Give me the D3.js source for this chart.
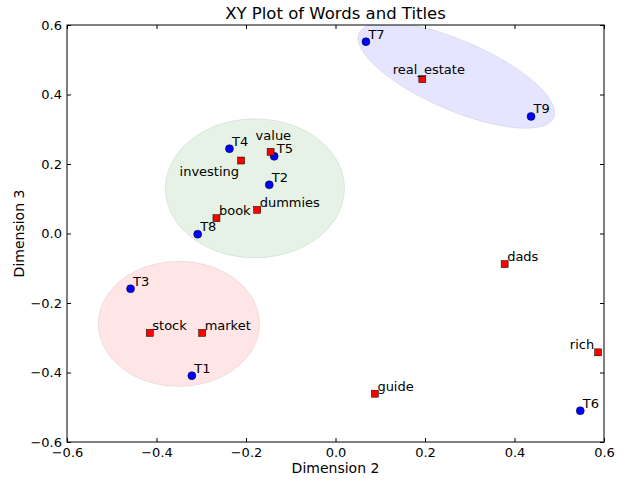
<!DOCTYPE html>
<html>
<head>
<meta charset="utf-8">
<script src="https://cdn.jsdelivr.net/npm/d3@7"></script>
<style>
  body { margin: 0; background: #fff; }
  text { font-family: "DejaVu Sans", sans-serif; fill: #000; }
</style>
</head>
<body>
<div id="chart"></div>
<script>
// title points (blue circles)
var titleNames = ["T1", "T2", "T3", "T4", "T5", "T6", "T7", "T8", "T9"];
var titleX = [-0.321, -0.148, -0.458, -0.237, -0.137, 0.547, 0.068, -0.308, 0.437];
var titleY = [-0.409, 0.140, -0.159, 0.244, 0.222, -0.510, 0.552, -0.002, 0.337];

// word points (red squares)
var wordNames = ["book", "dads", "dummies", "guide", "investing", "market", "real_estate", "rich", "stock", "value"];
var wordX = [-0.266, 0.378, -0.175, 0.088, -0.211, -0.298, 0.194, 0.587, -0.415, -0.145];
var wordY = [0.044, -0.088, 0.068, -0.461, 0.210, -0.286, 0.444, -0.342, -0.286, 0.235];

// cluster ellipses (data units)
var clusterCX = [-0.35, -0.18, 0.27];
var clusterCY = [-0.26, 0.13, 0.455];
var clusterW = [0.36, 0.40, 0.50];
var clusterH = [0.36, 0.40, 0.19];
var clusterAngle = [0, 0, -31];

var xTicks = [-0.6, -0.4, -0.2, 0.0, 0.2, 0.4, 0.6];
var yTicks = [-0.6, -0.4, -0.2, 0.0, 0.2, 0.4, 0.6];

var clusterColors = ["#ff0000", "#008000", "#0000ff"];

var W = 640, H = 484;
var margin = {top: 25, right: 36, bottom: 42, left: 67};
var width = W - margin.left - margin.right,
    height = H - margin.top - margin.bottom;

var svg = d3.select("#chart")
  .append("svg")
    .attr("width", W)
    .attr("height", H);

var g = svg.append("g")
    .attr("transform", "translate(" + margin.left + "," + margin.top + ")");

var x = d3.scaleLinear().domain([-0.6, 0.6]).range([0, width]);
var y = d3.scaleLinear().domain([-0.6, 0.6]).range([height, 0]);

svg.append("defs").append("clipPath").attr("id", "plotclip")
  .append("rect").attr("width", width).attr("height", height);

// ellipses
var ellipseLine = d3.line()
  .x(function(p){ return x(p[0]); })
  .y(function(p){ return y(p[1]); })
  .curve(d3.curveLinearClosed);

function ellipsePoints(i) {
  var a = clusterW[i] / 2, b = clusterH[i] / 2;
  var th = clusterAngle[i] * Math.PI / 180;
  return d3.range(0, 120).map(function(k){
    var t = k / 120 * 2 * Math.PI;
    var ex = a * Math.cos(t), ey = b * Math.sin(t);
    return [clusterCX[i] + ex * Math.cos(th) - ey * Math.sin(th),
            clusterCY[i] + ex * Math.sin(th) + ey * Math.cos(th)];
  });
}

g.append("g")
    .attr("clip-path", "url(#plotclip)")
  .selectAll("path")
  .data(d3.range(clusterCX.length))
  .join("path")
    .attr("d", function(i){ return ellipseLine(ellipsePoints(i)); })
    .attr("fill", function(i){ return clusterColors[i]; })
    .attr("fill-opacity", 0.1)
    .attr("stroke", "#000")
    .attr("stroke-opacity", 0.08)
    .attr("stroke-width", 1);

// axes (ticks inside, on all four sides)
var fmt = d3.format(".1f");
var xAxisB = d3.axisBottom(x).tickValues(xTicks).tickFormat(fmt).tickSizeInner(-4).tickSizeOuter(0).tickPadding(6);
var xAxisT = d3.axisTop(x).tickValues(xTicks).tickFormat("").tickSizeInner(-4).tickSizeOuter(0);
var yAxisL = d3.axisLeft(y).tickValues(yTicks).tickFormat(fmt).tickSizeInner(-4).tickSizeOuter(0).tickPadding(5);
var yAxisR = d3.axisRight(y).tickValues(yTicks).tickFormat("").tickSizeInner(-4).tickSizeOuter(0);

function styleAxis(sel) {
  sel.select(".domain").remove();
  sel.selectAll(".tick line").attr("stroke", "#000");
  sel.selectAll(".tick text")
    .style("font-family", "'DejaVu Sans', sans-serif")
    .style("font-size", "13px")
    .attr("fill", "#000");
}

g.append("g").attr("transform", "translate(0," + height + ")").call(xAxisB).call(styleAxis);
g.append("g").call(xAxisT).call(styleAxis);
g.append("g").call(yAxisL).call(styleAxis);
g.append("g").attr("transform", "translate(" + width + ",0)").call(yAxisR).call(styleAxis);

g.append("rect")
    .attr("width", width)
    .attr("height", height)
    .attr("fill", "none")
    .attr("stroke", "#000")
    .attr("stroke-width", 1);

// label placement tweaks (pixels)
var placement = {
  "value": {dx: -15, dy: -12, anchor: "start"},
  "real_estate": {dx: -29.5, dy: -5, anchor: "start"},
  "investing": {dx: -2, dy: 15, anchor: "end"},
  "rich": {dx: -4, dy: -3, anchor: "end"}
};
function place(name) {
  return placement[name] || {dx: 2.5, dy: -3, anchor: "start"};
}

// title markers
g.append("g")
  .selectAll("circle")
  .data(d3.range(titleNames.length))
  .join("circle")
    .attr("cx", function(i){ return x(titleX[i]); })
    .attr("cy", function(i){ return y(titleY[i]); })
    .attr("r", 4)
    .attr("fill", "#0000ff")
    .attr("stroke", "#000")
    .attr("stroke-width", 0.5);

// word markers
g.append("g")
  .selectAll("rect")
  .data(d3.range(wordNames.length))
  .join("rect")
    .attr("x", function(i){ return x(wordX[i]) - 3.5; })
    .attr("y", function(i){ return y(wordY[i]) - 3.5; })
    .attr("width", 7)
    .attr("height", 7)
    .attr("fill", "#ff0000")
    .attr("stroke", "#000")
    .attr("stroke-width", 0.5);

// labels
var labelData = titleNames.map(function(n, i){ return {name: n, x: titleX[i], y: titleY[i]}; })
  .concat(wordNames.map(function(n, i){ return {name: n, x: wordX[i], y: wordY[i]}; }));

g.append("g")
  .selectAll("text")
  .data(labelData)
  .join("text")
    .attr("x", function(d){ return x(d.x) + place(d.name).dx; })
    .attr("y", function(d){ return y(d.y) + place(d.name).dy; })
    .attr("text-anchor", function(d){ return place(d.name).anchor; })
    .style("font-size", "13px")
    .text(function(d){ return d.name; });

// titles
svg.append("text")
    .attr("x", margin.left + width / 2)
    .attr("y", 18.5)
    .attr("text-anchor", "middle")
    .style("font-size", "16.5px")
    .text("XY Plot of Words and Titles");

svg.append("text")
    .attr("x", margin.left + width / 2)
    .attr("y", 473)
    .attr("text-anchor", "middle")
    .style("font-size", "14px")
    .text("Dimension 2");

svg.append("text")
    .attr("transform", "translate(24," + (margin.top + height / 2) + ") rotate(-90)")
    .attr("text-anchor", "middle")
    .style("font-size", "14px")
    .text("Dimension 3");
</script>
</body>
</html>
